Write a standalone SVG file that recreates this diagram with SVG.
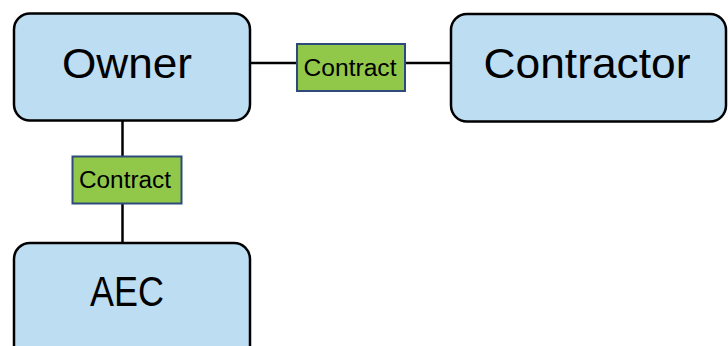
<svg xmlns="http://www.w3.org/2000/svg" width="728" height="346" viewBox="0 0 728 346">
<style>
.node{fill:#BDDDF2;stroke:#000;stroke-width:2.5}
.lbl{fill:#92C84A;stroke:#2E4A7A;stroke-width:2}
.big{font-family:"Liberation Sans",Arial,sans-serif;font-size:42px;fill:#000;text-anchor:middle}
.small{font-family:"Liberation Sans",Arial,sans-serif;font-size:23px;fill:#000;text-anchor:middle}
.conn{stroke:#000;stroke-width:2.5;fill:none}
</style>
<rect width="728" height="346" fill="#fff"/>
<g id="connectors">
<line class="conn" x1="250" y1="63" x2="451" y2="63"/>
<line class="conn" x1="122.5" y1="120" x2="122.5" y2="243"/>
</g>
<g id="owner">
<rect class="node" x="14" y="13.5" width="236" height="107" rx="16"/>
<text class="big" x="127" y="78" textLength="130" lengthAdjust="spacingAndGlyphs">Owner</text>
</g>
<g id="contractor">
<rect class="node" x="451" y="14" width="275" height="107.5" rx="16"/>
<text class="big" x="587" y="78" textLength="207" lengthAdjust="spacingAndGlyphs">Contractor</text>
</g>
<g id="aec">
<rect class="node" x="14" y="243" width="236" height="120" rx="16"/>
<text class="big" x="127" y="306" textLength="74" lengthAdjust="spacingAndGlyphs">AEC</text>
</g>
<g id="contract-owner-contractor">
<rect class="lbl" x="297" y="44" width="108" height="47"/>
<text class="small" x="350" y="76" textLength="93" lengthAdjust="spacingAndGlyphs">Contract</text>
</g>
<g id="contract-owner-aec">
<rect class="lbl" x="72.5" y="156.5" width="109" height="47"/>
<text class="small" x="125" y="188" textLength="92" lengthAdjust="spacingAndGlyphs">Contract</text>
</g>
</svg>
